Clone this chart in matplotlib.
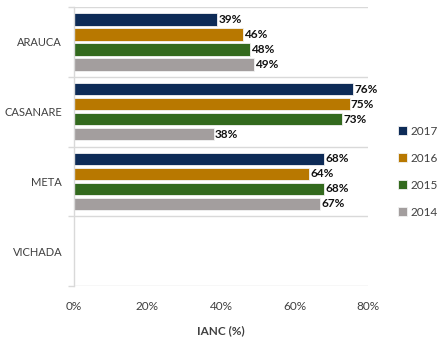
import matplotlib
matplotlib.use("Agg")
import matplotlib.pyplot as plt
from matplotlib.patches import Patch
import numpy as np

plt.rcParams['font.family'] = ['Lato', 'DejaVu Sans']

departments = ["ARAUCA", "CASANARE", "META", "VICHADA"]
years = ["2017", "2016", "2015", "2014"]
values = {
    "2017": [39, 76, 68, None],
    "2016": [46, 75, 64, None],
    "2015": [48, 73, 68, None],
    "2014": [49, 38, 67, None],
}
colors = {"2017": "#0d2b57", "2016": "#b87800", "2015": "#336a1e", "2014": "#a39e9e"}
x_ticks = [0, 20, 40, 60, 80]

fig = plt.figure(figsize=(4.46, 3.4), dpi=100)
ax = fig.add_axes([74 / 446, 1 - 286 / 340, (368 - 74) / 446, (286 - 7) / 340])

step = 0.215
height = 0.18
centers = np.arange(len(departments)) + 0.5
for i, yr in enumerate(years):
    off = (i - 1.5) * step
    for j, v in enumerate(values[yr]):
        if v is None:
            continue
        ax.barh(centers[j] + off, v, height=height, color=colors[yr],
                edgecolor="#f2f2f2", linewidth=0.6)
        ax.text(v + 0.3, centers[j] + off, f"{v}%", va="center", ha="left",
                fontsize=8.5, fontweight="bold", color="#111111")

ax.set_xlim(0, 80)
ax.set_ylim(len(departments), 0)
ax.set_xticks(x_ticks)
ax.set_xticklabels([f"{t}%" for t in x_ticks], fontsize=8.5, color="#404040")
ax.tick_params(axis="x", length=0, pad=11)
ax.set_yticks(centers)
ax.set_yticklabels(departments, fontsize=8, color="#404040")
ax.tick_params(axis="y", which="major", length=0, pad=8.5)
ax.set_yticks(np.arange(len(departments) + 1), minor=True)
ax.tick_params(axis="y", which="minor", length=4, color="#d9d9d9", width=1)
ax.grid(axis="y", which="minor", color="#d9d9d9", linewidth=1)
ax.grid(axis="x", visible=False)
ax.set_axisbelow(True)
for s in ["top", "right", "bottom"]:
    ax.spines[s].set_visible(False)
ax.spines["left"].set_color("#d9d9d9")
ax.spines["left"].set_linewidth(1)

ax.set_xlabel("IANC (%)", fontsize=8.5, fontweight="bold", color="#404040", labelpad=9)

handles = [Patch(facecolor=colors[yr], edgecolor="#f2f2f2", linewidth=0.6) for yr in years]
fig.legend(handles, years, loc="upper left", bbox_to_anchor=(398 / 446, 1 - 126 / 340),
           frameon=False, fontsize=8.5, labelcolor="#404040",
           handlelength=0.8, handleheight=0.8, handletextpad=0.3, labelspacing=1.35,
           borderaxespad=0, borderpad=0)

fig.savefig("out.png", dpi=100)
